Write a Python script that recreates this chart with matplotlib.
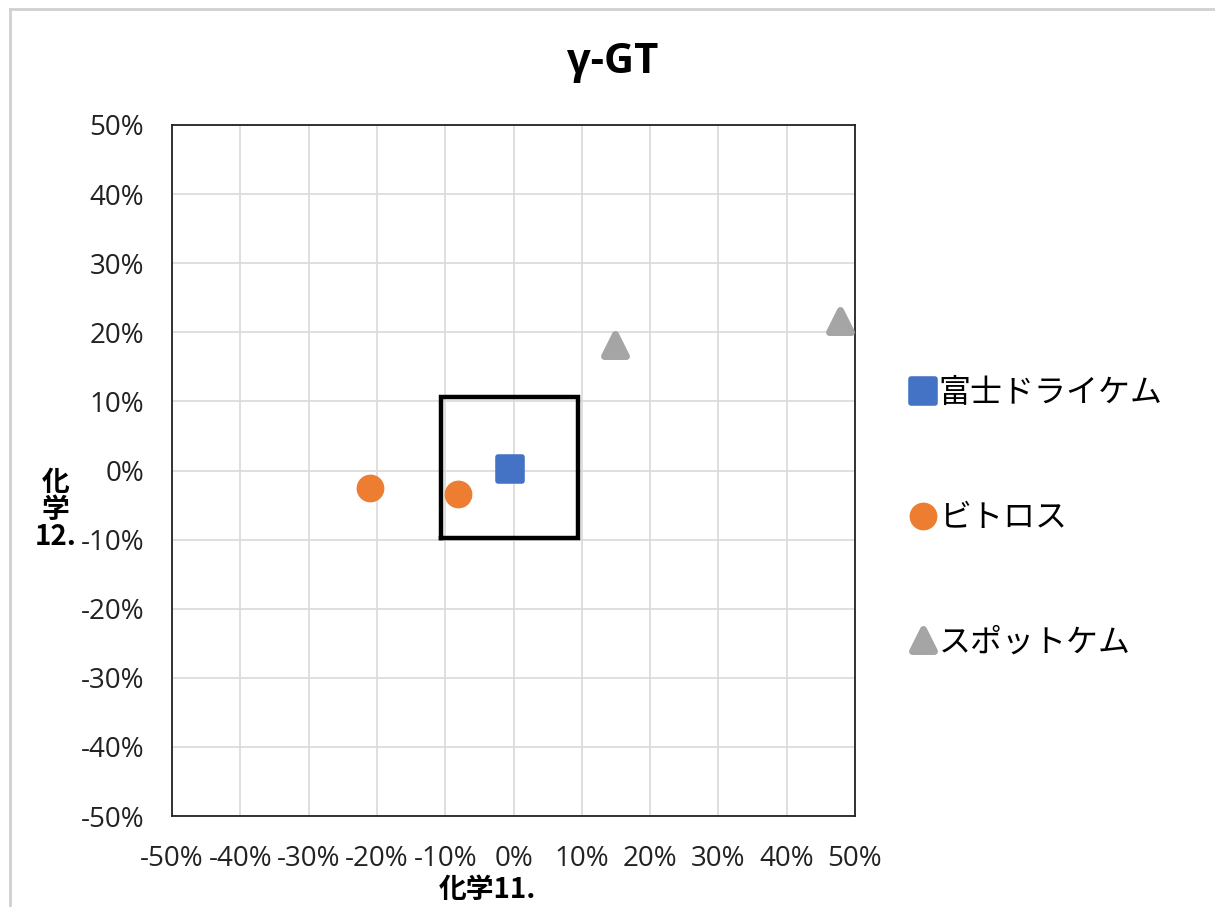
import matplotlib
matplotlib.use("Agg")
import matplotlib.pyplot as plt
from matplotlib.markers import MarkerStyle
from matplotlib.ticker import FuncFormatter, MultipleLocator

plt.rcParams['font.family'] = ['Noto Sans CJK JP', 'DejaVu Sans']
plt.rcParams['axes.unicode_minus'] = False

# ---------- donnees (en %) ----------
series = ["富士ドライケム", "ビトロス", "スポットケム"]
fuji_x = [-0.5]
fuji_y = [0.2]
vitros_x = [-21.0, -8.2]
vitros_y = [-2.5, -3.4]
spot_x = [14.8, 47.8]
spot_y = [18.1, 21.7]
box_x = [-10.6, 9.4, 9.4, -10.6, -10.6]   # cadre noir de tolerance
box_y = [-9.8, -9.8, 10.7, 10.7, -9.8]

colors = ["#4472c4", "#ed7d31", "#a5a5a5"]

fig = plt.figure(figsize=(12.15, 9.07), dpi=100)
ax = fig.add_axes([0.1416, 0.1003, 0.5621, 0.7619])

ax.plot(box_x, box_y, color="black", lw=3.2, solid_joinstyle="miter", zorder=3)

mk = lambda m: MarkerStyle(m, joinstyle="round")
ax.plot(fuji_x, fuji_y, ls="none", marker=mk("s"), ms=17, mfc=colors[0],
        mec=colors[0], mew=4, label=series[0], zorder=4)
ax.plot(vitros_x, vitros_y, ls="none", marker=mk("o"), ms=19, mfc=colors[1],
        mec=colors[1], mew=1, label=series[1], zorder=4)
ax.plot(spot_x, spot_y, ls="none", marker=mk("^"), ms=16, mfc=colors[2],
        mec=colors[2], mew=5, label=series[2], zorder=4)

ax.set_xlim(-50, 50)
ax.set_ylim(-50, 50)
ax.xaxis.set_major_locator(MultipleLocator(10))
ax.yaxis.set_major_locator(MultipleLocator(10))
fmt = FuncFormatter(lambda v, p: f"{v:.0f}%".replace("\u2212", "-"))
ax.xaxis.set_major_formatter(fmt)
ax.yaxis.set_major_formatter(fmt)
ax.tick_params(length=0, labelsize=20, colors="#222222")
ax.tick_params(axis="x", pad=21)
ax.tick_params(axis="y", pad=20)
for lab in ax.get_xticklabels() + ax.get_yticklabels():
    lab.set_family(['Open Sans', 'DejaVu Sans'])
ax.grid(color="#d9d9d9", lw=1.2)
ax.set_axisbelow(True)
for s in ax.spines.values():
    s.set_linewidth(1.3)
    s.set_color("#222222")

fig.text(0.504, 0.931, "γ-GT", ha="center", va="center", fontsize=30,
         fontweight="bold", family=['Open Sans', 'DejaVu Sans'])
fig.text(0.401, 0.019, "化学11.", ha="center", va="center", fontsize=20,
         fontweight="bold")
fig.text(0.0455, 0.4377, "化\n学\n12.", ha="center", va="center", fontsize=20,
         fontweight="bold", linespacing=0.95)

leg = ax.legend(loc="center left", bbox_to_anchor=(0.728, 0.429),
                bbox_transform=fig.transFigure, frameon=False, fontsize=23,
                labelspacing=2.9, handlelength=0.6, handletextpad=0.2,
                markerscale=1.0)

# cadre gris du graphique (capture Excel)
fig.add_artist(plt.Line2D([0.0085, 0.0085], [0, 0.99], color="#d0d0d0", lw=2,
                          transform=fig.transFigure))
fig.add_artist(plt.Line2D([0.0085, 1], [0.99, 0.99], color="#d0d0d0", lw=2,
                          transform=fig.transFigure))

fig.savefig("out.png", dpi=100)
